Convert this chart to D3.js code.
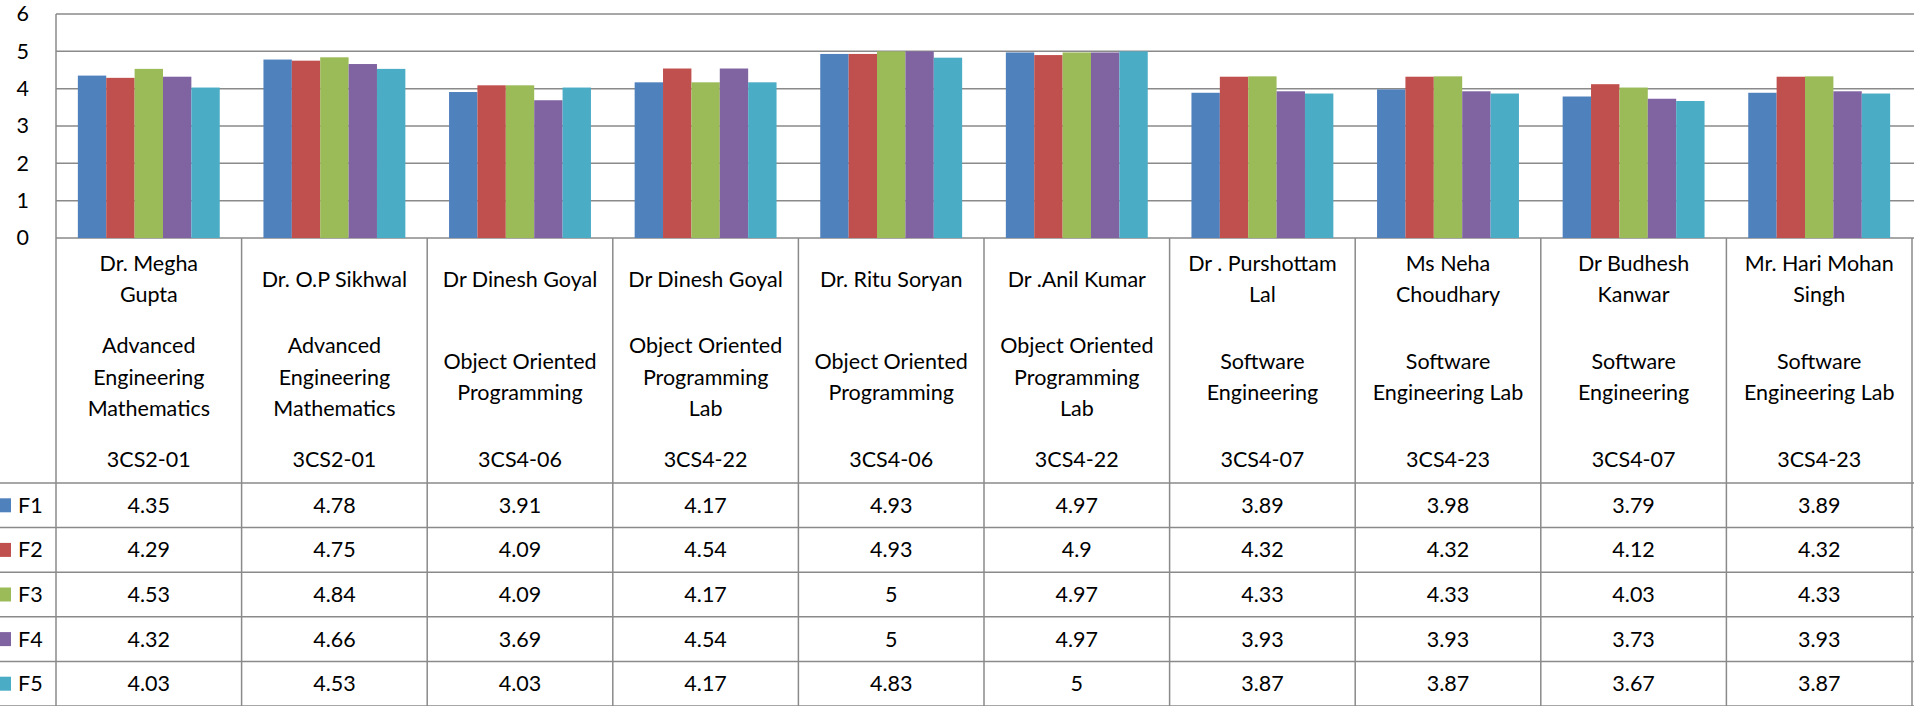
<!DOCTYPE html>
<html>
<head>
<meta charset="utf-8">
<script src="https://cdn.jsdelivr.net/npm/d3@7"></script>
<style>
  body { margin: 0; background: #fff; }
  text { font-family: Lato, "Open Sans", sans-serif; fill: #000; }
</style>
</head>
<body>
<div id="chart"></div>
<script>
// data
var teachers = ["Dr. Megha|Gupta", "Dr. O.P Sikhwal", "Dr Dinesh Goyal", "Dr Dinesh Goyal",
  "Dr. Ritu Soryan", "Dr .Anil Kumar", "Dr . Purshottam|Lal", "Ms Neha|Choudhary",
  "Dr Budhesh|Kanwar", "Mr. Hari Mohan|Singh"];
var subjects = ["Advanced|Engineering|Mathematics", "Advanced|Engineering|Mathematics",
  "Object Oriented|Programming", "Object Oriented|Programming|Lab",
  "Object Oriented|Programming", "Object Oriented|Programming|Lab",
  "Software|Engineering", "Software|Engineering Lab",
  "Software|Engineering", "Software|Engineering Lab"];
var codes = ["3CS2-01", "3CS2-01", "3CS4-06", "3CS4-22", "3CS4-06", "3CS4-22",
  "3CS4-07", "3CS4-23", "3CS4-07", "3CS4-23"];
var series = ["F1", "F2", "F3", "F4", "F5"];
var F1 = [4.35, 4.78, 3.91, 4.17, 4.93, 4.97, 3.89, 3.98, 3.79, 3.89];
var F2 = [4.29, 4.75, 4.09, 4.54, 4.93, 4.9, 4.32, 4.32, 4.12, 4.32];
var F3 = [4.53, 4.84, 4.09, 4.17, 5, 4.97, 4.33, 4.33, 4.03, 4.33];
var F4 = [4.32, 4.66, 3.69, 4.54, 5, 4.97, 3.93, 3.93, 3.73, 3.93];
var F5 = [4.03, 4.53, 4.03, 4.17, 4.83, 5, 3.87, 3.87, 3.67, 3.87];
var yTicks = [0, 1, 2, 3, 4, 5, 6];
var colors = ["#4F81BD", "#C0504D", "#9BBB59", "#8064A2", "#4BACC6"];

var values = [F1, F2, F3, F4, F5];
var cats = d3.range(teachers.length);

var W = 1927, H = 706;
var plotLeft = 56, plotRight = 1912, plotTop = 14, axisY = 238;
var headBottom = 483, rowH = 44.6;
var lineH = 31.7;
var fontSize = "21.5px";
var gridColor = "#8a8a8a";

var svg = d3.select("#chart").append("svg")
  .attr("width", W).attr("height", H);

// scales
var x0 = d3.scaleBand().domain(cats).range([plotLeft, plotRight]);
var x1 = d3.scaleBand().domain(series).range([0, x0.bandwidth()]).paddingOuter(0.77);
var y = d3.scaleLinear().domain([0, 6]).range([axisY, plotTop]);
var color = d3.scaleOrdinal().domain(series).range(colors);

// gridlines
svg.append("g").selectAll("line")
  .data(yTicks)
  .enter().append("line")
    .attr("x1", plotLeft).attr("x2", plotRight + 2)
    .attr("y1", function(d) { return y(d); })
    .attr("y2", function(d) { return y(d); })
    .attr("stroke", gridColor).attr("stroke-width", 1.5);

// y labels
var yAxis = svg.append("g")
  .attr("transform", "translate(29,0)")
  .call(d3.axisLeft(y).tickValues(yTicks).tickFormat(d3.format("d")).tickSize(0).tickPadding(0));
yAxis.select(".domain").remove();
yAxis.selectAll("text")
  .style("font-family", "Lato, sans-serif")
  .style("font-size", fontSize)
  .attr("fill", "#000");

// bars
svg.append("g").selectAll("g")
  .data(series)
  .enter().append("g")
    .attr("fill", function(d) { return color(d); })
  .selectAll("rect")
  .data(function(s, i) { return values[i].map(function(v, j) { return {s: s, c: j, v: v}; }); })
  .enter().append("rect")
    .attr("x", function(d) { return x0(d.c) + x1(d.s); })
    .attr("width", x1.bandwidth())
    .attr("y", function(d) { return y(d.v); })
    .attr("height", function(d) { return axisY - y(d.v); });

// table lines
var table = svg.append("g").attr("stroke", gridColor).attr("stroke-width", 1.5);
table.append("line")
  .attr("x1", plotLeft).attr("x2", plotLeft).attr("y1", plotTop).attr("y2", H);
table.selectAll(".vline")
  .data(cats)
  .enter().append("line")
    .attr("x1", function(d) { return x0(d) + x0.bandwidth(); })
    .attr("x2", function(d) { return x0(d) + x0.bandwidth(); })
    .attr("y1", axisY).attr("y2", H);
table.selectAll(".hline")
  .data(d3.range(series.length + 1))
  .enter().append("line")
    .attr("x1", 0).attr("x2", plotRight + 2)
    .attr("y1", function(d) { return headBottom + d * rowH; })
    .attr("y2", function(d) { return headBottom + d * rowH; });

// header labels
function block(g, str, cy) {
  var lines = str.split("|");
  var start = cy - (lines.length - 1) * lineH / 2;
  lines.forEach(function(l, k) {
    g.append("text")
      .attr("x", 0).attr("y", start + k * lineH)
      .attr("dy", "0.35em")
      .attr("text-anchor", "middle")
      .style("font-size", fontSize)
      .text(l);
  });
}
var heads = svg.append("g").selectAll("g")
  .data(cats)
  .enter().append("g")
    .attr("transform", function(d) { return "translate(" + (x0(d) + x0.bandwidth() / 2) + ",0)"; });
heads.each(function(d) {
  var g = d3.select(this);
  block(g, teachers[d], 279);
  block(g, subjects[d], 377);
  block(g, codes[d], 459);
});

// data table rows
series.forEach(function(s, i) {
  var cy = headBottom + i * rowH + rowH / 2;
  svg.append("rect")
    .attr("x", -3).attr("y", cy - 7)
    .attr("width", 14).attr("height", 14)
    .attr("fill", color(s));
  svg.append("text")
    .attr("x", 18).attr("y", cy).attr("dy", "0.35em")
    .style("font-size", fontSize)
    .text(s);
  svg.append("g").selectAll("text")
    .data(values[i])
    .enter().append("text")
      .attr("x", function(v, j) { return x0(j) + x0.bandwidth() / 2; })
      .attr("y", cy).attr("dy", "0.35em")
      .attr("text-anchor", "middle")
      .style("font-size", fontSize)
      .text(function(v) { return v; });
});
</script>
</body>
</html>
